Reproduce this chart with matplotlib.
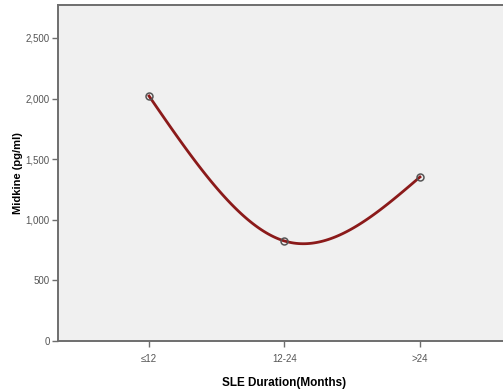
import numpy as np
import matplotlib
matplotlib.use("Agg")
from matplotlib import pyplot as plt
from matplotlib.ticker import FuncFormatter

plt.rcParams['font.family'] = ['Liberation Sans', 'DejaVu Sans']

categories = ["\u226412", "12-24", ">24"]
midkine = [2021, 825, 1353]
y_ticks = [0, 500, 1000, 1500, 2000, 2500]


def natural_spline(y, n=60):
    # natural cubic spline through equally spaced points (SPSS style interpolation line)
    y = np.asarray(y, dtype=float)
    k = len(y)
    A = np.zeros((k, k))
    r = np.zeros(k)
    A[0, 0] = A[-1, -1] = 1
    for i in range(1, k - 1):
        A[i, i - 1], A[i, i], A[i, i + 1] = 1, 4, 1
        r[i] = 6 * (y[i - 1] - 2 * y[i] + y[i + 1])
    M = np.linalg.solve(A, r)
    xs, ys = [], []
    for i in range(k - 1):
        t = np.linspace(0, 1, n)
        s = (y[i] * (1 - t) + y[i + 1] * t
             + M[i] / 6 * ((1 - t) ** 3 - (1 - t))
             + M[i + 1] / 6 * (t ** 3 - t))
        xs.append(i + t)
        ys.append(s)
    return np.concatenate(xs), np.concatenate(ys)


fig = plt.figure(figsize=(5.03, 3.92), dpi=100)
ax = fig.add_axes([58 / 503, 1 - 341 / 392, (511 - 58) / 503, (341 - 4.5) / 392])
ax.set_facecolor("#f0f0f0")

x = np.arange(len(categories))
sx, sy = natural_spline(midkine)
ax.plot(sx, sy, color="#8b1a1a", lw=2, zorder=2)
ax.plot(x, midkine, "o", ms=5, mfc="none", mec="#555555", mew=1.1, zorder=3)

ax.set_xlim(-0.672, 2.672)
ax.set_ylim(0, 2776)
ax.set_xticks(x)
ax.set_xticklabels(categories)
ax.set_yticks(y_ticks)
ax.yaxis.set_major_formatter(FuncFormatter(lambda v, p: f"{int(v):,}"))

for side in ["left", "bottom", "top"]:
    ax.spines[side].set_color("#6e6e6e")
    ax.spines[side].set_linewidth(1.4)
ax.spines["right"].set_visible(False)
ax.tick_params(axis="both", direction="out", length=4, width=1, color="#6e6e6e",
               labelsize=7, labelcolor="#555555", pad=2)
ax.tick_params(axis="x", pad=5)

ax.set_ylabel("Midkine (pg/ml)", fontsize=8, fontweight="bold", labelpad=2)
ax.set_xlabel("SLE Duration(Months)", fontsize=8.5, fontweight="bold", labelpad=10)

fig.savefig("out.png", dpi=100)
